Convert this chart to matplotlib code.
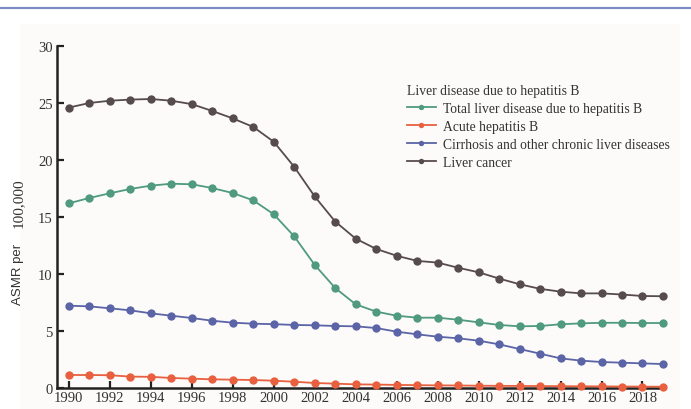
import matplotlib
matplotlib.use("Agg")
import matplotlib.pyplot as plt
from matplotlib.lines import Line2D
import matplotlib.patches as mpatches

years = list(range(1990, 2020))

liver_cancer = [24.6, 25.0, 25.2, 25.3, 25.35, 25.2, 24.9, 24.3, 23.65, 22.9,
                21.6, 19.4, 16.8, 14.6, 13.1, 12.2, 11.6, 11.15, 11.0, 10.55,
                10.15, 9.6, 9.1, 8.7, 8.45, 8.3, 8.3, 8.2, 8.07, 8.05]
total_hbv = [16.2, 16.67, 17.08, 17.46, 17.75, 17.92, 17.87, 17.54, 17.1, 16.46,
             15.24, 13.3, 10.8, 8.77, 7.34, 6.7, 6.34, 6.17, 6.17, 5.99,
             5.76, 5.53, 5.41, 5.44, 5.59, 5.67, 5.72, 5.72, 5.7, 5.7]
cirrhosis = [7.22, 7.16, 6.99, 6.81, 6.55, 6.34, 6.14, 5.9, 5.73, 5.64,
             5.6, 5.53, 5.5, 5.44, 5.41, 5.26, 4.94, 4.71, 4.5, 4.36,
             4.15, 3.83, 3.42, 3.01, 2.6, 2.4, 2.28, 2.22, 2.16, 2.1]
acute = [1.14, 1.14, 1.12, 1.0, 0.98, 0.88, 0.82, 0.76, 0.73, 0.7,
         0.64, 0.55, 0.44, 0.38, 0.32, 0.3, 0.27, 0.25, 0.23, 0.22,
         0.2, 0.19, 0.18, 0.17, 0.16, 0.15, 0.14, 0.13, 0.12, 0.11]

series_labels = ["Total liver disease due to hepatitis B", "Acute hepatitis B",
                 "Cirrhosis and other chronic liver diseases", "Liver cancer"]
legend_title = "Liver disease due to hepatitis B"
xtick_years = list(range(1990, 2020, 2))
yticks = [0, 5, 10, 15, 20, 25, 30]

colors = ["#4f9a80", "#e8603f", "#5b64a6", "#574c4c"]
serif = ["Liberation Serif", "DejaVu Serif"]

fig = plt.figure(figsize=(6.91, 4.10), dpi=100)
fig.patch.set_facecolor("white")
# faint panel and top rule
panel = mpatches.Rectangle((20/691, 0), 660/691, 1 - 25/410,
                           transform=fig.transFigure, facecolor="#fcfbf9",
                           edgecolor="none", zorder=-10)
fig.add_artist(panel)
fig.add_artist(Line2D([0, 1], [1 - 9/410, 1 - 9/410], transform=fig.transFigure,
                      color="#7a8cc4", lw=1.6))

ax = fig.add_axes([57/691, 1 - 389/410, (664 - 57)/691, (389 - 47)/410])
ax.set_facecolor("none")

data = [total_hbv, acute, cirrhosis, liver_cancer]
handles = []
for vals, c, lab in zip(data, colors, series_labels):
    h, = ax.plot(years, vals, color=c, lw=1.3, marker="o", ms=6,
                 markeredgewidth=0, label=lab, clip_on=False, zorder=3)
    handles.append(h)

ax.set_xlim(1989.42, 2019.05)
ax.set_ylim(0, 30)
ax.set_xticks(xtick_years)
ax.set_yticks(yticks)
ax.set_xticklabels([str(y) for y in xtick_years], fontfamily=serif, fontsize=10.5)
ax.set_yticklabels([str(v) for v in yticks], fontfamily=serif, fontsize=10.5)
ax.tick_params(axis="both", direction="in", length=5, width=1.6, color="#222222",
               labelcolor="#333333")
ax.tick_params(axis="x", pad=2)
ax.tick_params(axis="y", pad=3)
for s in ["top", "right"]:
    ax.spines[s].set_visible(False)
for s in ["left", "bottom"]:
    ax.spines[s].set_linewidth(1.8)
    ax.spines[s].set_color("#222222")

fig.text(18/691, 1 - 274/410, "ASMR per", rotation=90, ha="center", va="center",
         fontfamily=["Liberation Sans", "DejaVu Sans"], fontsize=9.5, color="#333333")
fig.text(18/691, 1 - 203/410, "100,000", rotation=90, ha="center", va="center",
         fontfamily=serif, fontsize=11, color="#333333")

leg = ax.legend(handles=handles, title=legend_title, loc="upper left",
                bbox_to_anchor=(397/691, 1 - 75/410), bbox_transform=fig.transFigure,
                frameon=False, prop={"family": serif, "size": 9.8},
                title_fontproperties={"family": serif, "size": 9.8},
                handlelength=2.2, handletextpad=0.5, labelspacing=0.38,
                borderpad=0.2, markerscale=0.65)
leg._legend_box.align = "left"
for t in leg.get_texts():
    t.set_color("#333333")
leg.get_title().set_color("#333333")

fig.savefig("out.png", dpi=100)
